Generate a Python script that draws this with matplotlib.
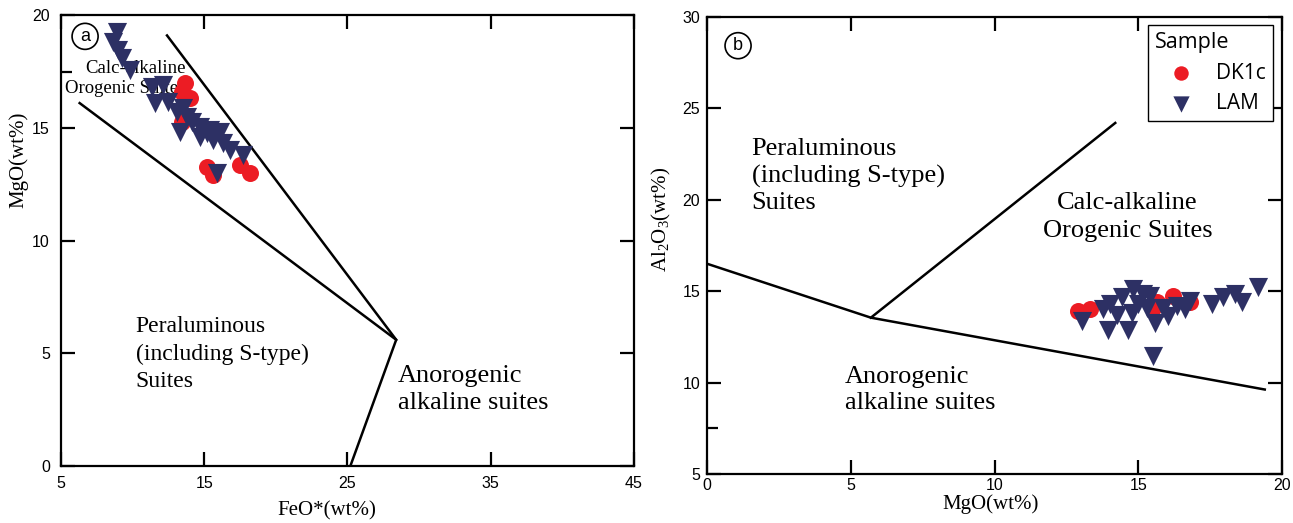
import numpy as np
import matplotlib
matplotlib.use("Agg")
import matplotlib.pyplot as plt
from matplotlib.ticker import FixedLocator

# Panel a: FeO* vs MgO
a_lam_feo = [8.91, 8.63, 8.98, 9.26, 9.82, 11.35, 12.12, 11.56, 12.47, 13.10, 13.52, 13.31,
             13.80, 14.15, 14.70, 14.70, 15.19, 15.40, 16.10, 15.61, 16.31, 16.80, 17.71, 15.89]
a_lam_mgo = [19.25, 18.80, 18.45, 18.09, 17.56, 16.81, 16.90, 16.10, 16.14, 15.70, 15.88, 14.81,
             15.48, 15.25, 15.03, 14.59, 14.77, 14.90, 14.81, 14.46, 14.32, 14.01, 13.79, 12.99]
a_dk_feo = [13.66, 14.01, 13.45, 15.19, 15.61, 17.50, 18.19, 13.45]
a_dk_mgo = [16.98, 16.32, 16.59, 13.26, 12.90, 13.35, 12.99, 15.25]

# Panel b: MgO vs Al2O3
b_lam_mgo = [13.03, 13.96, 13.79, 14.02, 14.65, 14.42, 14.83, 15.00, 15.18, 14.77, 15.41, 15.58, 15.52,
             16.05, 15.87, 16.34, 16.63, 16.80, 17.55, 17.96, 18.37, 18.60, 19.18, 14.25, 15.29]
b_lam_al = [13.35, 12.88, 14.00, 14.29, 12.88, 14.66, 15.13, 14.29, 14.85, 13.82, 14.76, 13.26, 11.48,
            13.63, 14.10, 14.20, 14.00, 14.48, 14.29, 14.66, 14.85, 14.38, 15.22, 13.72, 14.10]
b_dk_mgo = [12.92, 13.32, 15.64, 16.22, 16.80, 15.50]
b_dk_al = [13.92, 14.00, 14.38, 14.76, 14.38, 14.10]

# discrimination boundaries
a_line1_x = [6.3, 28.4, 25.2]
a_line1_y = [16.1, 5.6, 0.0]
a_line2_x = [12.4, 28.4]
a_line2_y = [19.1, 5.6]
b_line1_x = [0.0, 5.7, 19.4]
b_line1_y = [16.5, 13.55, 9.62]
b_line2_x = [5.7, 14.2]
b_line2_y = [13.55, 24.2]

RED = "#ec1c24"
NAVY = "#2d3064"
SERIF = "Liberation Serif"
SANS = "Liberation Sans"

plt.rcParams["mathtext.fontset"] = "custom"
plt.rcParams["mathtext.rm"] = SERIF
plt.rcParams["mathtext.it"] = SERIF


def style_axes(ax, major_x, major_y, minor_y, xpad=7, ypad=7):
    """Inward ticks on all sides, heavy frame."""
    for s in ax.spines.values():
        s.set_linewidth(1.6)
    ax.xaxis.set_major_locator(FixedLocator(major_x))
    ax.yaxis.set_major_locator(FixedLocator(major_y))
    ax.yaxis.set_minor_locator(FixedLocator(minor_y))
    ax.tick_params(which="both", direction="in", top=True, right=True, width=1.6,
                   labelsize=11.5)
    ax.tick_params(axis="x", pad=xpad)
    ax.tick_params(axis="y", pad=ypad)
    ax.tick_params(which="major", length=10)
    ax.tick_params(which="minor", length=8, right=False)
    for lab in ax.get_xticklabels() + ax.get_yticklabels():
        lab.set_family(SANS)


def panel_label(ax, x, y, s):
    ax.text(x, y, s, transform=ax.transAxes, ha="center", va="center", fontsize=13,
            family=SANS, bbox=dict(boxstyle="circle,pad=0.25", fc="white", ec="black", lw=1.2))


fig = plt.figure(figsize=(12.93, 5.23), dpi=100)
ax1 = fig.add_axes([0.0472, 0.109, 0.4431, 0.862])
ax2 = fig.add_axes([0.5468, 0.0937, 0.4447, 0.874])

# ---- panel a
ax1.plot(a_line1_x, a_line1_y, color="black", lw=1.8, zorder=2)
ax1.plot(a_line2_x, a_line2_y, color="black", lw=1.8, zorder=2)
ax1.text(6.68, 17.65, "Calc-alkaline", ha="left", va="center",
         fontsize=13.5, family=SERIF, zorder=1)
ax1.text(5.28, 16.76, "Orogenic Suites", ha="left", va="center",
         fontsize=13.5, family=SERIF, zorder=1)
ax1.text(10.2, 4.95, "Peraluminous\n(including S-type)\nSuites", ha="left", va="center",
         fontsize=17, family=SERIF, linespacing=1.4)
ax1.text(28.5, 3.4, "Anorogenic\nalkaline suites", ha="left", va="center",
         fontsize=19, family=SERIF, linespacing=1.3)
ax1.scatter(a_dk_feo, a_dk_mgo, s=150, marker="o", color=RED, lw=0, zorder=3)
ax1.scatter(a_lam_feo, a_lam_mgo, s=190, marker="v", color=NAVY, lw=0, zorder=4)
ax1.set_xlim(5, 45)
ax1.set_ylim(0, 20)
style_axes(ax1, [5, 15, 25, 35, 45], [0, 5, 10, 15, 20], [17.5], xpad=7, ypad=8)
ax1.set_xlabel("FeO*(wt%)", family=SERIF, fontsize=15)
ax1.xaxis.set_label_coords(0.464, -0.078)
ax1.set_ylabel("MgO(wt%)", family=SERIF, fontsize=15, va="center")
ax1.yaxis.set_label_coords(-0.075, 0.68)
panel_label(ax1, 0.042, 0.953, "a")

# ---- panel b
ax2.plot(b_line1_x, b_line1_y, color="black", lw=1.8, zorder=2)
ax2.plot(b_line2_x, b_line2_y, color="black", lw=1.8, zorder=2)
ax2.text(1.55, 21.3, "Peraluminous\n(including S-type)\nSuites", ha="left", va="center",
         fontsize=19, family=SERIF, linespacing=1.25)
ax2.text(14.63, 19.03, "Calc-alkaline\nOrogenic Suites", ha="center", va="center",
         fontsize=19, family=SERIF, linespacing=1.35)
ax2.text(4.79, 9.6, "Anorogenic\nalkaline suites", ha="left", va="center",
         fontsize=19, family=SERIF, linespacing=1.2)
ax2.scatter(b_dk_mgo, b_dk_al, s=150, marker="o", color=RED, lw=0, zorder=3, label="DK1c")
ax2.scatter(b_lam_mgo, b_lam_al, s=190, marker="v", color=NAVY, lw=0, zorder=4, label="LAM")
ax2.set_xlim(0, 20)
ax2.set_ylim(5, 30)
style_axes(ax2, [0, 5, 10, 15, 20], [5, 10, 15, 20, 25, 30], [7.5], xpad=3, ypad=5)
ax2.set_xlabel("MgO(wt%)", family=SERIF, fontsize=15)
ax2.xaxis.set_label_coords(0.494, -0.045)
ax2.set_ylabel("Al$_2$O$_3$(wt%)", family=SERIF, fontsize=15, va="center")
ax2.yaxis.set_label_coords(-0.08, 0.557)
panel_label(ax2, 0.054, 0.937, "b")

leg = ax2.legend(title="Sample", loc="upper right", bbox_to_anchor=(0.984, 0.982),
                 borderaxespad=0, frameon=True, fancybox=False, framealpha=1,
                 edgecolor="black", prop={"family": "Open Sans", "size": 15},
                 title_fontproperties={"family": "Open Sans", "size": 15.5},
                 alignment="left", handlelength=2.5, handletextpad=0.4,
                 labelspacing=0.45, borderpad=0.35, markerscale=0.85)
leg.get_frame().set_linewidth(1.0)
leg.set_zorder(5)

fig.savefig("out.png", dpi=100)
plt.close(fig)
